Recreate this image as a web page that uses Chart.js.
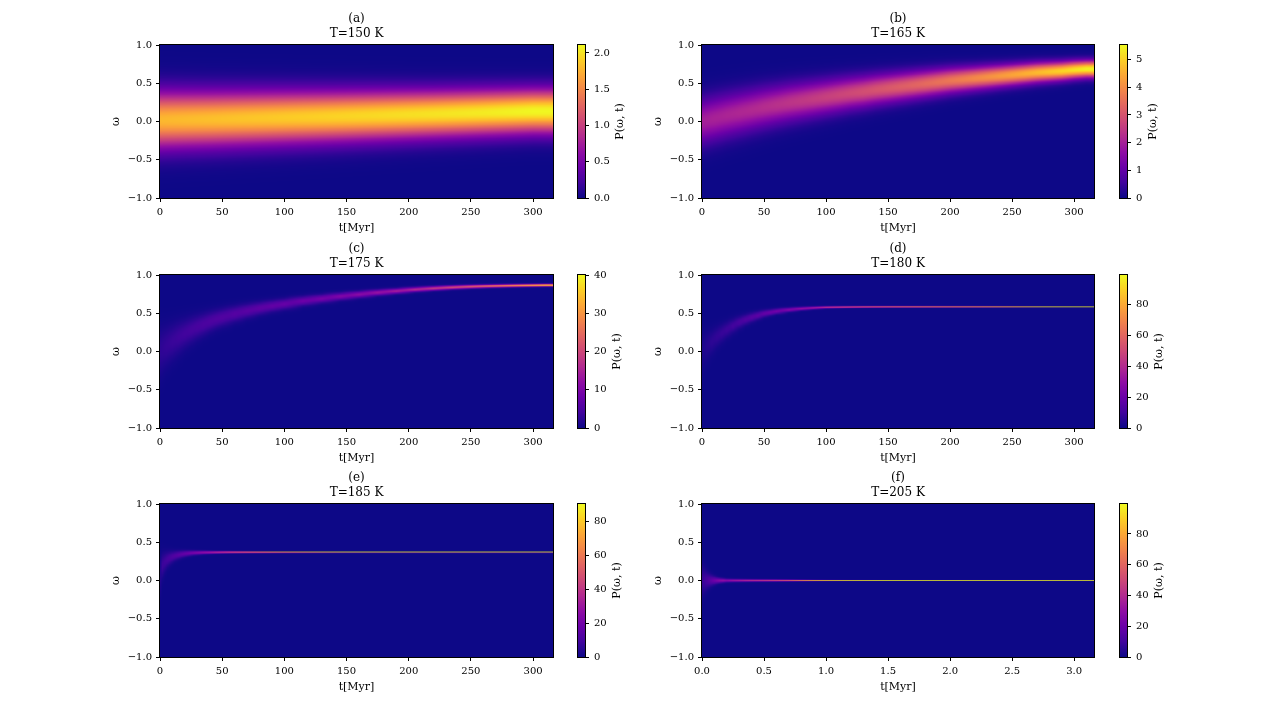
<!DOCTYPE html>
<html>
<head>
<meta charset="utf-8">
<script src="https://cdn.jsdelivr.net/npm/chart.js@4.4.1/dist/chart.umd.min.js"></script>
<style>
html,body{margin:0;padding:0;background:#fff;}
body{width:1268px;height:715px;position:relative;overflow:hidden;}
canvas{position:absolute;}
</style>
</head>
<body>
<script>
// ---------------- values ----------------
const panelLetters = ['(a)','(b)','(c)','(d)','(e)','(f)'];
const temperaturesK = [150,165,175,180,185,205];
const timeMax = [316,316,316,316,316,3.16];
const timeTicksMyr = [0,50,100,150,200,250,300];
const timeTicksShort = [0,0.5,1,1.5,2,2.5,3];
const omegaTicks = [-1,-0.5,0,0.5,1];
const omegaCells = 199;               // omega grid of the P(omega,t) image
const colorMax = [2.11,5.53,40,99,90.4,99.5];
const colorTicksA = [0,0.5,1,1.5,2];
const colorTicksB = [0,1,2,3,4,5];
const colorTicksC = [0,10,20,30,40];
const colorTicksDEF = [0,20,40,60,80];

// ridge of P(omega,t): time samples, ridge centre, ridge width, ridge height
const timeA   = [0,20,40,60,80,100,120,140,160,180,200,220,240,260,280,300];
const centerA = [0.02,0.025,0.03,0.037,0.044,0.051,0.058,0.065,0.073,0.081,0.089,0.097,0.106,0.115,0.124,0.133];
const widthA  = [0.245,0.24,0.236,0.232,0.228,0.224,0.22,0.216,0.212,0.208,0.204,0.2,0.197,0.194,0.191,0.188];
const peakA   = [1.78,1.8,1.82,1.84,1.86,1.88,1.9,1.92,1.94,1.96,1.98,2.0,2.02,2.04,2.07,2.1];

const timeB   = [0,10,20,30,40,50,60,70,80,90,100,110,120,130,140,150,160,170,180,190,200,210,220,230,240,250,260,270,280,290,300,310];
const centerB = [0.0,0.04,0.08,0.115,0.15,0.185,0.215,0.245,0.27,0.295,0.32,0.345,0.37,0.39,0.415,0.435,0.455,0.475,0.495,0.515,0.535,0.55,0.565,0.58,0.595,0.61,0.625,0.64,0.65,0.66,0.675,0.685];
const widthB  = [0.199,0.195,0.19,0.186,0.181,0.176,0.17,0.166,0.161,0.156,0.151,0.147,0.142,0.138,0.133,0.129,0.125,0.121,0.117,0.113,0.109,0.105,0.101,0.098,0.094,0.091,0.088,0.085,0.082,0.079,0.076,0.073];
const peakB   = [2.0,2.05,2.1,2.15,2.2,2.27,2.34,2.41,2.48,2.56,2.64,2.72,2.8,2.9,3.0,3.1,3.2,3.3,3.42,3.54,3.66,3.8,3.94,4.08,4.23,4.38,4.54,4.7,4.88,5.06,5.25,5.45];

const timeC   = [0,5,10,15,20,25,30,35,40,45,50,60,70,80,90,100,115,130,145,160,175,190,205,220,235,250,265,280,295,310];
const centerC = [0.0,0.07,0.13,0.185,0.235,0.28,0.32,0.355,0.39,0.42,0.445,0.49,0.53,0.565,0.595,0.62,0.66,0.69,0.72,0.745,0.77,0.79,0.81,0.825,0.838,0.848,0.855,0.86,0.864,0.867];
const widthC  = [0.2,0.17,0.15,0.135,0.12,0.11,0.1,0.092,0.085,0.079,0.074,0.066,0.059,0.053,0.048,0.044,0.039,0.035,0.031,0.028,0.025,0.022,0.02,0.018,0.016,0.0145,0.013,0.012,0.011,0.01];
const peakC   = [2.5,3,3.4,3.8,4.1,4.4,4.7,5,5.2,5.4,5.6,6,6.4,6.8,7.2,7.6,8.3,9.2,10.2,11.4,12.8,14.4,16.2,18.2,20.4,22.8,25.4,28.2,31.5,36];

const timeD   = [0,4,8,12,16,20,25,30,35,40,45,50,55,60,70,80,90,100,115,130,150,175,200,225,250,275,300];
const centerD = [0.0,0.07,0.13,0.19,0.24,0.285,0.335,0.38,0.415,0.445,0.47,0.495,0.51,0.525,0.545,0.56,0.57,0.577,0.58,0.582,0.583,0.583,0.583,0.583,0.583,0.583,0.583];
const widthD  = [0.18,0.13,0.1,0.085,0.075,0.066,0.058,0.05,0.044,0.039,0.034,0.03,0.026,0.023,0.018,0.014,0.011,0.0085,0.007,0.006,0.0053,0.0048,0.0044,0.004,0.0033,0.0025,0.002];
const peakD   = [3,4.5,6,7,8,9,10.5,12,13.5,15,16.5,18,20,22,26,30,35,45,56,66,75,83,90,100,121,160,199];

const timeE   = [0,2,4,6,8,10,12,15,18,21,24,27,30,35,40,45,50,55,60,70,80,90,100,125,150,200,250,300];
const centerE = [0.05,0.2,0.245,0.275,0.295,0.31,0.322,0.335,0.345,0.352,0.357,0.361,0.363,0.366,0.367,0.368,0.369,0.3695,0.3695,0.3695,0.3695,0.3695,0.3695,0.3695,0.3695,0.3695,0.3695,0.3695];
const widthE  = [0.15,0.1,0.08,0.065,0.055,0.047,0.04,0.034,0.029,0.025,0.022,0.019,0.017,0.014,0.012,0.01,0.009,0.008,0.007,0.0055,0.0045,0.0035,0.003,0.0025,0.002,0.002,0.002,0.002];
const peakE   = [4,8,9,10,11,12,13,14.5,16,17.5,19,21,23,27,31,37,42,48,55,70,86,112,130,160,199,199,199,199];

const timeF   = [0,0.02,0.04,0.06,0.08,0.1,0.12,0.14,0.17,0.2,0.25,0.3,0.35,0.4,0.5,0.6,0.7,0.8,0.9,1.0,1.2,1.5,2.0,2.5,3.0];
const centerF = [0,0,0,0,0,0,0,0,0,0,0,0,0,0,0,0,0,0,0,0,0,0,0,0,0];
const widthF  = [0.13,0.1,0.075,0.055,0.042,0.033,0.026,0.021,0.017,0.014,0.012,0.011,0.01,0.0092,0.0082,0.0072,0.006,0.0045,0.0035,0.003,0.0025,0.002,0.002,0.002,0.002];
const peakF   = [8,10,12,15,18,21,24,27,30,28,33,36,40,43,48,55,66,88,114,133,160,199,199,199,199];

// ---------------- styling ----------------
const SERIF = "'DejaVu Serif', serif";
Chart.defaults.font.family = SERIF;
Chart.defaults.color = '#000';
const plasmaStops = [[13,8,135],[65,4,157],[106,0,168],[143,13,164],[177,42,144],[204,71,120],[225,100,98],[242,132,75],[252,166,54],[252,206,37],[240,249,33]];
function plasma(u){
  u = Math.max(0, Math.min(1, u));
  const f = u * 10, i = Math.min(9, Math.floor(f)), r = f - i;
  const a = plasmaStops[i], b = plasmaStops[i+1];
  return [a[0]+(b[0]-a[0])*r, a[1]+(b[1]-a[1])*r, a[2]+(b[2]-a[2])*r];
}
function erf(x){
  const s = x < 0 ? -1 : 1; x = Math.abs(x);
  const t = 1 / (1 + 0.3275911 * x);
  const y = 1 - (((((1.061405429*t - 1.453152027)*t) + 1.421413741)*t - 0.284496736)*t + 0.254829592)*t*Math.exp(-x*x);
  return s * y;
}
// value of each omega cell for one time sample (Gaussian ridge averaged over the cell)
function cellValues(c, s, pk){
  const dw = 2 / omegaCells, m = pk * s * Math.sqrt(2 * Math.PI);
  const out = new Float64Array(omegaCells);
  for (let k = 0; k < omegaCells; k++){
    const a = -1 + k * dw, b = a + dw;
    out[k] = m * 0.5 * (erf((b - c) / (s * Math.SQRT2)) - erf((a - c) / (s * Math.SQRT2))) / dw;
  }
  return out;
}

const panels = [
  {t:timeA, c:centerA, w:widthA, p:peakA, cbTicks:colorTicksA, cbDec:1},
  {t:timeB, c:centerB, w:widthB, p:peakB, cbTicks:colorTicksB, cbDec:0},
  {t:timeC, c:centerC, w:widthC, p:peakC, cbTicks:colorTicksC, cbDec:0},
  {t:timeD, c:centerD, w:widthD, p:peakD, cbTicks:colorTicksDEF, cbDec:0},
  {t:timeE, c:centerE, w:widthE, p:peakE, cbTicks:colorTicksDEF, cbDec:0},
  {t:timeF, c:centerF, w:widthF, p:peakF, cbTicks:colorTicksDEF, cbDec:0}
];

const colMainX = [100, 640], colCbX = [560, 1100];
const colPadL = [10, 12], colPadR = [7, 6];
const colCbPadL = [18, 20], colCbPadR = [5, 3];
const rowY = [0, 230, 459];
const CH = 240;

function mkCanvas(x, y, w, h){
  const c = document.createElement('canvas');
  c.width = w; c.height = h;
  c.style.left = x + 'px'; c.style.top = y + 'px';
  c.style.width = w + 'px'; c.style.height = h + 'px';
  document.body.appendChild(c);
  return c;
}
const fmtSigned = (v, d) => (v < 0 ? '\u2212' : '') + Math.abs(v).toFixed(d);

function drawFrame(ctx, L, T, W, H){
  ctx.save();
  ctx.strokeStyle = '#000'; ctx.lineWidth = 1;
  ctx.strokeRect(L - 0.5, T - 0.5, W + 1, H + 1);
  ctx.restore();
}

panels.forEach((pn, idx) => {
  const col = idx % 2, row = Math.floor(idx / 2);
  const vmax = colorMax[idx];
  const xMax = timeMax[idx];
  const xTicks = idx === 5 ? timeTicksShort : timeTicksMyr;
  const xDec = idx === 5 ? 1 : 0;
  const tables = pn.t.map((_, k) => cellValues(pn.c[k], pn.w[k], pn.p[k]));

  const heat = {
    id: 'heat' + idx,
    beforeDatasetsDraw(chart){
      const {ctx, chartArea: a, scales: {x, y}} = chart;
      const L = Math.round(a.left), T = Math.round(a.top);
      const W = Math.round(a.right) - L, H = Math.round(a.bottom) - T;
      const off = document.createElement('canvas'); off.width = W; off.height = H;
      const octx = off.getContext('2d');
      const img = octx.createImageData(W, H);
      const S = 8, n = pn.t.length, dw = 2 / omegaCells;
      const cellIdx = new Int32Array(H * S);
      for (let j = 0; j < H * S; j++){
        const w = y.getValueForPixel(T + (j + 0.5) / S);
        cellIdx[j] = Math.max(0, Math.min(omegaCells - 1, Math.floor((w + 1) / dw)));
      }
      for (let i = 0; i < W; i++){
        const t = x.getValueForPixel(L + i + 0.5);
        let k = 0;
        while (k + 1 < n && t >= pn.t[k+1]) k++;
        let f = 0;
        if (k + 1 < n) f = (t - pn.t[k]) / (pn.t[k+1] - pn.t[k]);
        const A = tables[k], B = tables[Math.min(n - 1, k + 1)];
        for (let j = 0; j < H; j++){
          let r = 0, g = 0, b = 0;
          for (let q = 0; q < S; q++){
            const ci = cellIdx[j*S + q];
            const v = A[ci] * (1 - f) + B[ci] * f;
            const cl = plasma(v / vmax);
            r += cl[0]; g += cl[1]; b += cl[2];
          }
          const o = (j * W + i) * 4;
          img.data[o] = r / S; img.data[o+1] = g / S; img.data[o+2] = b / S; img.data[o+3] = 255;
        }
      }
      octx.putImageData(img, 0, 0);
      ctx.drawImage(off, L, T);
      drawFrame(ctx, L, T, W, H);
    }
  };

  const mc = mkCanvas(colMainX[col], rowY[row], 460, CH);
  new Chart(mc, {
    type: 'scatter',
    data: { datasets: [{ data: [], pointRadius: 0 }] },
    plugins: [heat],
    options: {
      responsive: false, animation: false, devicePixelRatio: 1,
      layout: { padding: { left: colPadL[col], right: colPadR[col], top: 0, bottom: 0 } },
      plugins: {
        legend: { display: false }, tooltip: { enabled: false },
        title: {
          display: true, fullSize: false,
          text: [panelLetters[idx], 'T=' + temperaturesK[idx] + ' K'],
          font: { family: SERIF, size: 12, weight: 'normal', lineHeight: 1.2 },
          color: '#000', padding: { top: 12, bottom: 4.2 }
        }
      },
      scales: {
        x: {
          type: 'linear', min: 0, max: xMax,
          afterFit: s => { s.height = 42; },
          afterBuildTicks: s => { s.ticks = xTicks.map(v => ({ value: v })); },
          ticks: { font: { size: 10 }, color: '#000', padding: 4, maxRotation: 0,
                   callback: v => fmtSigned(v, xDec) },
          grid: { display: true, drawOnChartArea: false, drawTicks: true, tickLength: 4, tickColor: '#000', tickWidth: 1 },
          border: { display: false },
          title: { display: true, text: 't[Myr]', font: { size: 11, lineHeight: 1.2 }, color: '#000', padding: { top: 0, bottom: 5.4 } }
        },
        y: {
          type: 'linear', min: -1, max: 1,
          afterFit: s => { s.width = 50; },
          afterBuildTicks: s => { s.ticks = omegaTicks.map(v => ({ value: v })); },
          ticks: { font: { size: 10 }, color: '#000', padding: 4, callback: v => fmtSigned(v, 1) },
          grid: { display: true, drawOnChartArea: false, drawTicks: true, tickLength: 4, tickColor: '#000', tickWidth: 1 },
          border: { display: false },
          title: { display: true, text: 'ω', font: { size: 11, lineHeight: 1.2 }, color: '#000', padding: { top: 0, bottom: 0 } }
        }
      }
    }
  });

  // colour bar
  const cbar = {
    id: 'cbar' + idx,
    beforeDatasetsDraw(chart){
      const {ctx, chartArea: a, scales: {y}} = chart;
      const L = Math.round(a.left), T = Math.round(a.top);
      const W = Math.round(a.right) - L, H = Math.round(a.bottom) - T;
      for (let j = 0; j < H; j++){
        const cl = plasma(y.getValueForPixel(T + j + 0.5) / vmax);
        ctx.fillStyle = 'rgb(' + cl.map(Math.round).join(',') + ')';
        ctx.fillRect(L, T + j, W, 1);
      }
      drawFrame(ctx, L, T, W, H);
      ctx.save();
      ctx.font = '10px ' + SERIF;
      let mw = 0;
      pn.cbTicks.forEach(v => { mw = Math.max(mw, ctx.measureText(v.toFixed(pn.cbDec)).width); });
      const lx = L + W + 4 + 5 + mw + 4 + 6.5;
      ctx.translate(lx, T + H / 2);
      ctx.rotate(-Math.PI / 2);
      ctx.font = '11px ' + SERIF;
      ctx.fillStyle = '#000'; ctx.textAlign = 'center'; ctx.textBaseline = 'middle';
      ctx.fillText('P(ω, t)', 0, 0);
      ctx.restore();
    }
  };
  const cc = mkCanvas(colCbX[col], rowY[row], 80, CH);
  new Chart(cc, {
    type: 'scatter',
    data: { datasets: [{ data: [], pointRadius: 0 }] },
    plugins: [cbar],
    options: {
      responsive: false, animation: false, devicePixelRatio: 1,
      layout: { padding: { left: colCbPadL[col], right: colCbPadR[col], top: 45, bottom: 42 } },
      plugins: { legend: { display: false }, tooltip: { enabled: false }, title: { display: false } },
      scales: {
        x: { type: 'linear', display: false, min: 0, max: 1 },
        y: {
          type: 'linear', position: 'right', min: 0, max: vmax,
          afterFit: s => { s.width = 50; },
          afterBuildTicks: s => { s.ticks = pn.cbTicks.map(v => ({ value: v })); },
          ticks: { font: { size: 10 }, color: '#000', padding: 5, callback: v => v.toFixed(pn.cbDec) },
          grid: { display: true, drawOnChartArea: false, drawTicks: true, tickLength: 4, tickColor: '#000', tickWidth: 1 },
          border: { display: false }
        }
      }
    }
  });
});
</script>
</body>
</html>
